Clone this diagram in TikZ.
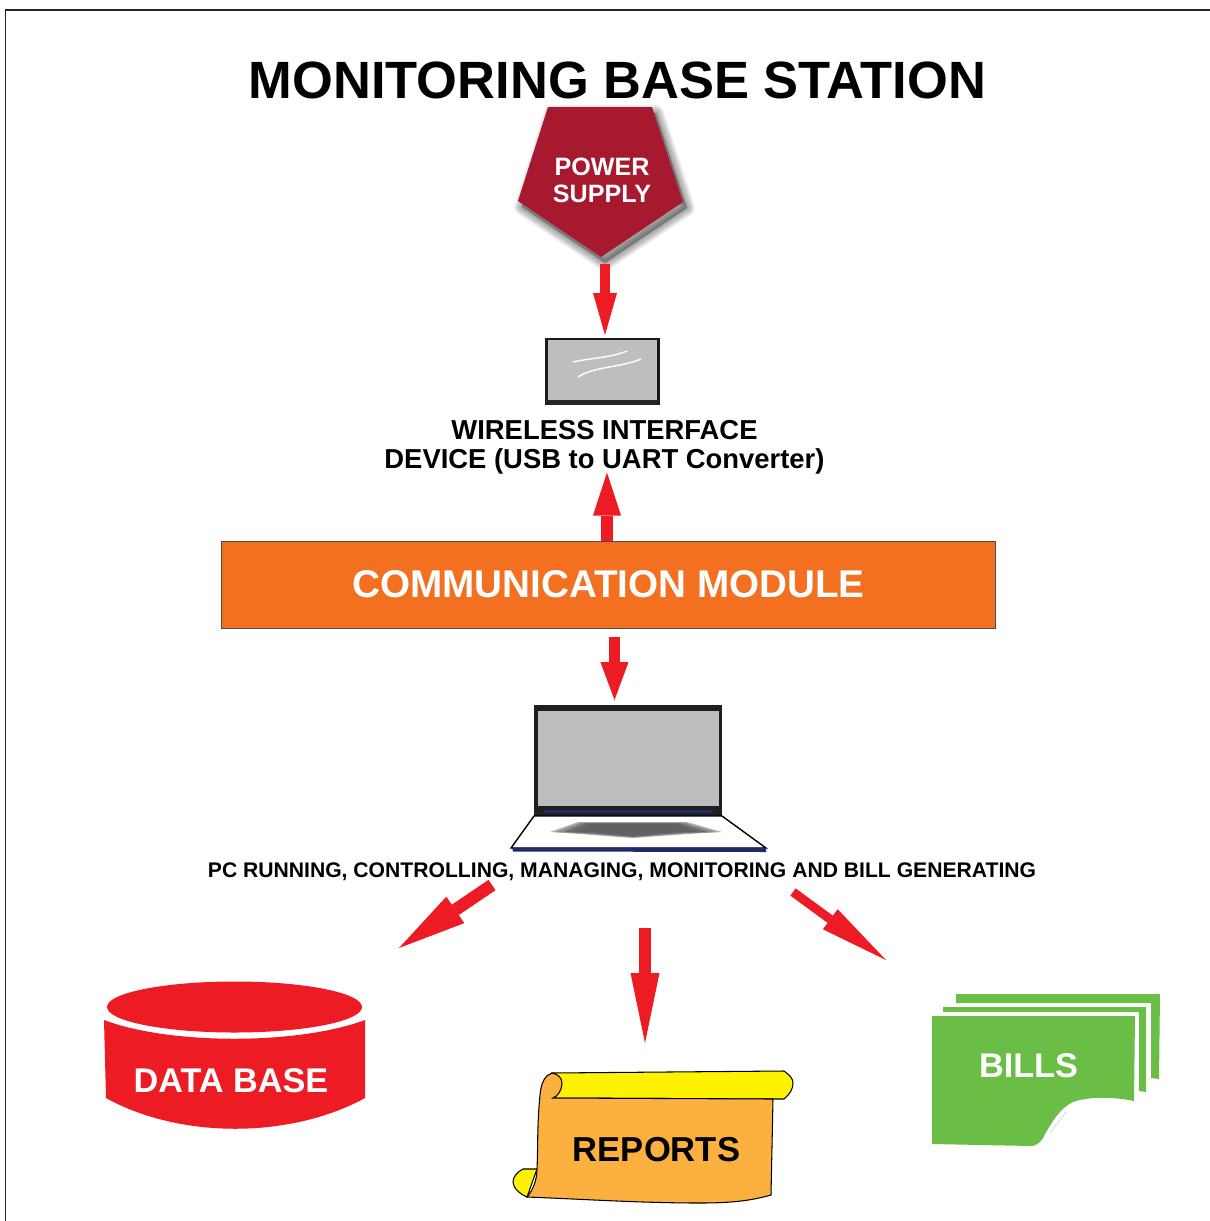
\documentclass[tikz,border=0pt]{standalone}
\usepackage{fontspec}
\setmainfont{Liberation Sans}
\usetikzlibrary{arrows.meta}
\definecolor{arrowred}{HTML}{ED1C24}
\definecolor{powerred}{HTML}{A6192E}
\definecolor{screengray}{HTML}{BCBEC0}
\definecolor{commorange}{HTML}{F37021}
\definecolor{billgreen}{HTML}{6ABD45}
\definecolor{reportorange}{HTML}{FBB040}
\definecolor{rollyellow}{HTML}{FFF200}
\definecolor{basenavy}{HTML}{1F2A66}
\tikzset{
	redarrow/.style n args={3}{draw=arrowred, line width=#1, -{Triangle[length=#2, width=#3, line width=0pt, fill=arrowred]}},
	labeltext/.style={font=\bfseries\fontsize{#1}{#1}\selectfont, align=center, inner sep=0pt},
	whitetext/.style={labeltext=#1, text=white},
}
\begin{document}
\begin{tikzpicture}[x=0.02cm, y=-0.02cm]
	\useasboundingbox (0,0) rectangle (1210,1221);

	% Frame
	\draw[line width=1.1pt, black!85] (5.5,1221) -- (5.5,10) -- (1210,10);

	% Power supply
	\foreach \w in {16,14,12,10,8,6,4,2}
		\draw[black, opacity=0.05, line width=\w*0.569pt, line join=round] (552,113) -- (656,113) -- (687,208) -- (605,263) -- (522,207) -- cycle;
	\fill[black, opacity=0.3] (552,113) -- (656,113) -- (687,208) -- (605,263) -- (522,207) -- cycle;
	\fill[powerred] (548,107) -- (652,107) -- (683,202) -- (601,257) -- (518,201) -- cycle;
	\node[whitetext=14.3] (power) at (602,180) {POWER\\[1pt]SUPPLY};
	\coordinate (powertip) at (605,264);

	% Title
	\node[labeltext=29.85] (title) at (617.5,80) {MONITORING BASE STATION};

	% Wireless device
	\fill[screengray] (546,338) rectangle (659,405);
	\draw[line width=1.2pt, black!90] (546.5,339) -- (658.5,339) -- (658.5,404) -- (546.5,404) -- cycle;
	\fill[black!85] (546,400) rectangle (659,405);
	\draw[white, line width=0.8pt] (573,362) .. controls (590,358) and (610,358) .. (627,351);
	\draw[white, line width=0.8pt] (578,377) .. controls (595,366) and (620,368) .. (641,359);
	\coordinate (wirelesstop) at (605,335);
	\draw[redarrow={5.4pt}{23.9pt}{13.7pt}] (powertip) -- (wirelesstop);
	\node[labeltext=15.6] (wireless) at (604.5,447.5) {WIRELESS INTERFACE\\[1.2pt]DEVICE (USB to UART Converter)};
	\coordinate (wirelessbase) at (607,472.5);

	% Communication module
	\node[draw=black!70, fill=commorange, line width=0.5pt, minimum width=15.5cm, minimum height=1.74cm, whitetext=22] (comm) at (608.5,584.5) {COMMUNICATION MODULE};
	\coordinate (commtop) at (607,541);
	\draw[redarrow={6.8pt}{24.5pt}{16pt}] (commtop) -- (wirelessbase);
	\coordinate (commlow) at (614.5,637);
	\coordinate (laptoptop) at (614.5,700);
	\draw[redarrow={6.7pt}{21.6pt}{16pt}] (commlow) -- (laptoptop);

	% Laptop
	\fill[black!88] (534,705) rectangle (722,816);
	\fill[screengray] (538,711) rectangle (719,806);
	\fill[basenavy] (544,810) rectangle (713,813);
	\draw[fill=white, line width=0.8pt] (534,816) -- (722,816) -- (766,848) -- (511,848) -- cycle;
	\fill[basenavy] (512,847.5) -- (766,847.5) -- (766,852) -- (513,851.5) -- cycle;
	\foreach \g/\c in {0/30, 6/45, 14/58, 24/62}
		\fill[black!\c] (550+\g,832) -- (578+\g/2,822+\g/12) -- (687-\g/2,822+\g/12) -- (722-\g,832) -- (687-\g/2,834-\g/12) -- (633,838-\g/12) -- (580+\g/2,834-\g/12) -- cycle;
	\node[labeltext=12.03] (pc) at (622,872) {PC RUNNING, CONTROLLING, MANAGING, MONITORING AND BILL GENERATING};

	% Arrows to the outputs
	\coordinate (pcleft) at (492,885);
	\coordinate (dbtop) at (399,948);
	\coordinate (pcmid) at (645,928);
	\coordinate (reportstop) at (645,1043);
	\coordinate (pcright) at (793,892);
	\coordinate (billstop) at (886,960);
	\draw[redarrow={7.1pt}{38.7pt}{18.2pt}] (pcleft) -- (dbtop);
	\draw[redarrow={6.8pt}{39.8pt}{16.5pt}] (pcmid) -- (reportstop);
	\draw[redarrow={5.1pt}{39.3pt}{14.2pt}] (pcright) -- (billstop);

	% Data base
	\fill[arrowred] (234.5,1007) ellipse [x radius=127.5, y radius=25.5];
	\fill[arrowred] (104,1020) .. controls (170,1045) and (298,1045) .. (365,1020) -- (365,1098) .. controls (290,1139) and (180,1139) .. (106,1098) -- cycle;
	\node[whitetext=19.5] (dbase) at (231,1081) {DATA BASE};

	% Reports
	\draw[fill=rollyellow, line width=0.6pt] (552,1073) -- (784,1071) .. controls (790,1075) and (793,1079) .. (793,1083) .. controls (793,1089) and (790,1094) .. (784,1099) -- (553,1098) -- cycle;
	\draw[fill=rollyellow, line width=0.6pt] (537,1169) -- (523,1169) .. controls (517,1172) and (513,1177) .. (513,1182) .. controls (513,1188) and (520,1194) .. (527,1197) -- cycle;
	\draw[fill=reportorange, line width=0.6pt] (552,1073) .. controls (558,1074) and (562,1078) .. (562,1083) .. controls (562,1090) and (558,1096) .. (553,1098) -- (773,1099) -- (771,1195) .. controls (750,1201) and (730,1203) .. (700,1203) .. controls (640,1203) and (580,1199) .. (527,1197) .. controls (533,1190) and (537,1180) .. (537,1169) .. controls (538,1150) and (537,1125) .. (540,1095) .. controls (541,1083) and (545,1075) .. (552,1073) -- cycle;
	\node[labeltext=19.7] (reports) at (656.5,1150) {REPORTS};

	% Bills
	\fill[billgreen] (956,994) -- (1160,994) -- (1159,1079) -- (1151,1078) -- (1151,1003) -- (956,1003) -- cycle;
	\fill[billgreen] (943,1007) -- (1146,1007) -- (1146,1092) -- (1139,1091) -- (1139,1012) -- (943,1012) -- cycle;
	\fill[billgreen] (932,1016) -- (1135,1016) -- (1134,1101) .. controls (1115,1097) and (1090,1096) .. (1073,1102) .. controls (1060,1108) and (1052,1122) .. (1045,1134) .. controls (1042,1141) and (1038,1146) .. (1030,1146) -- (932,1144) -- cycle;
	\draw[billgreen!50, line width=0.3pt] (1050,1133) -- (1066,1112);
	\node[whitetext=19.5] (bills) at (1028.5,1066) {BILLS};
\end{tikzpicture}
\end{document}
